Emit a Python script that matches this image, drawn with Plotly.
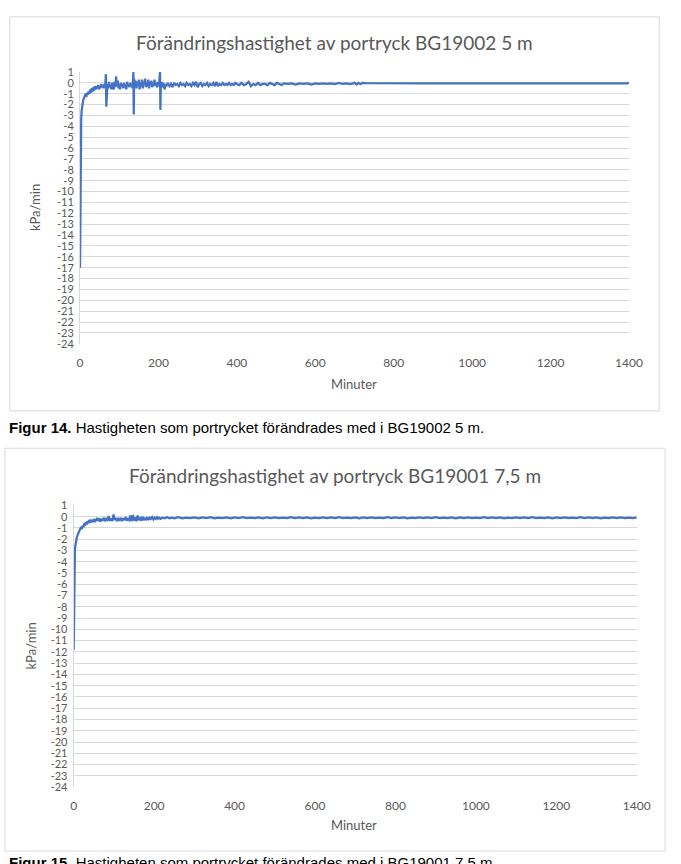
import plotly.graph_objects as go

# ---------------- data ----------------
x_tick_vals = [0, 200, 400, 600, 800, 1000, 1200, 1400]
y_tick_vals = list(range(1, -25, -1))
y_tick_text = [str(v) for v in y_tick_vals]

title1 = "Förändringshastighet av portryck BG19002 5 m"
title2 = "Förändringshastighet av portryck BG19001 7,5 m"
x_label = "Minuter"
y_label = "kPa/min"
caption1_bold = "Figur 14."
caption1_text = " Hastigheten som portrycket förändrades med i BG19002 5 m."
caption2_bold = "Figur 15."
caption2_text = " Hastigheten som portrycket förändrades med i BG19001 7,5 m."

# BG19002 5 m
minutes_1 = [0, 1, 2, 3, 4, 5, 6, 8, 10, 12,
             14, 16, 18, 20, 22, 24, 26, 28, 30, 32,
             34, 36, 38, 40, 42, 44, 46, 48, 50, 52,
             54, 56, 58, 60, 62, 64, 66, 67, 68, 70,
             72, 74, 76, 78, 80, 82, 84, 86, 88, 90,
             92, 94, 96, 98, 100, 102, 104, 106, 108, 110,
             112, 114, 116, 118, 120, 122, 124, 126, 128, 130,
             132, 134, 136, 137, 138, 140, 142, 144, 146, 148,
             150, 152, 154, 156, 158, 160, 162, 164, 166, 168,
             170, 172, 174, 176, 178, 180, 182, 184, 186, 188,
             190, 192, 194, 196, 198, 200, 202, 204, 205, 206,
             208, 210, 212, 214, 216, 218, 220, 224, 228, 232,
             236, 240, 244, 248, 252, 256, 260, 264, 268, 272,
             276, 280, 284, 288, 292, 296, 300, 304, 308, 312,
             316, 320, 324, 328, 332, 336, 340, 344, 348, 352,
             356, 360, 364, 368, 372, 376, 380, 384, 388, 392,
             396, 400, 406, 412, 418, 424, 430, 436, 442, 448,
             454, 460, 466, 472, 478, 484, 490, 496, 502, 508,
             514, 520, 530, 540, 550, 560, 570, 580, 590, 600,
             610, 620, 630, 640, 650, 660, 670, 680, 690, 700,
             705, 710, 715, 720, 725, 730, 900, 1100, 1300, 1396,
             1400]
rate_1 = [-17.0, -6.0, -4.5, -3.3, -2.6, -2.2, -1.9, -1.6, -1.4, -1.2,
          -1.0, -1.3, -0.9, -1.1, -0.8, -1.0, -0.6, -0.9, -0.5, -0.8,
          -0.4, -0.7, -0.3, -0.6, -0.3, -0.5, -0.2, -0.6, -0.3, -0.5,
          -0.1, -0.4, -0.2, -0.5, -0.1, -0.4, 0.8, -2.2, -0.3, -0.1,
          -0.5, 0.1, -0.4, -0.2, -0.6, 0.0, -0.3, -0.6, 0.1, -0.4,
          0.6, -0.3, 0.2, -0.5, -0.1, -0.6, 0.0, -0.3, -0.1, -0.5,
          0.0, -0.4, -0.2, -0.6, 0.1, -0.3, -0.1, -0.4, 0.0, -0.3,
          -0.1, -0.5, 1.0, -2.9, 0.4, -0.4, 0.2, -0.5, 0.1, -0.3,
          0.3, -0.6, 0.0, -0.3, 0.3, -0.5, 0.1, -0.2, 0.4, -0.4,
          0.0, -0.3, 0.3, -0.5, 0.1, -0.2, 0.2, -0.4, 0.0, -0.3,
          0.3, -0.2, 0.0, -0.4, 0.1, -0.3, 0.0, 1.0, -2.5, -0.2,
          0.1, -0.4, 0.0, -0.2, -0.6, -0.1, -0.3, 0.0, -0.3, -0.1,
          -0.4, 0.0, -0.2, -0.1, -0.3, 0.0, -0.2, -0.1, -0.3, 0.0,
          -0.2, -0.1, -0.3, 0.0, -0.2, 0.1, -0.4, -0.1, 0.0, -0.3,
          -0.1, -0.2, 0.0, -0.3, -0.1, -0.2, 0.0, -0.3, 0.1, -0.3,
          -0.1, -0.2, 0.0, -0.2, -0.1, -0.2, 0.0, -0.2, -0.1, -0.2,
          0.0, -0.1, -0.2, 0.0, -0.2, -0.1, 0.1, -0.3, -0.1, -0.2,
          0.0, -0.2, -0.1, -0.1, -0.2, 0.0, -0.1, -0.2, 0.0, -0.1,
          -0.2, -0.05, -0.1, -0.05, -0.15, -0.05, -0.1, -0.05, -0.15, -0.05,
          -0.1, -0.05, -0.1, -0.05, -0.12, 0.0, -0.1, -0.05, -0.12, 0.0,
          -0.15, 0.0, -0.12, 0.0, -0.05, -0.03, -0.04, -0.04, -0.04, -0.05,
          0.03]

# BG19001 7,5 m
minutes_2 = [0, 1, 2, 3, 4, 5, 6, 8, 10, 12,
             14, 16, 18, 20, 22, 24, 26, 28, 30, 32,
             34, 36, 38, 40, 42, 44, 46, 48, 50, 52,
             54, 56, 58, 60, 63, 66, 69, 72, 75, 78,
             81, 84, 87, 90, 93, 96, 99, 102, 105, 108,
             111, 114, 117, 120, 123, 126, 129, 132, 135, 138,
             141, 144, 147, 150, 153, 156, 159, 162, 165, 168,
             171, 174, 177, 180, 183, 186, 189, 192, 195, 198,
             201, 204, 207, 210, 213, 216, 220, 226, 232, 238,
             244, 250, 260, 270, 280, 290, 300, 310, 320, 330,
             340, 350, 360, 370, 380, 390, 400, 410, 420, 430,
             440, 450, 460, 470, 480, 490, 500, 510, 520, 530,
             540, 550, 560, 570, 580, 590, 600, 610, 620, 630,
             640, 650, 660, 670, 680, 690, 700, 710, 720, 730,
             740, 750, 760, 770, 780, 790, 800, 810, 820, 830,
             840, 850, 860, 870, 880, 890, 900, 910, 920, 930,
             940, 950, 960, 970, 980, 990, 1000, 1010, 1020, 1030,
             1040, 1050, 1060, 1070, 1080, 1090, 1100, 1110, 1120, 1130,
             1140, 1150, 1160, 1170, 1180, 1190, 1200, 1210, 1220, 1230,
             1240, 1250, 1260, 1270, 1280, 1290, 1300, 1310, 1320, 1330,
             1340, 1350, 1360, 1370, 1380, 1390, 1400]
rate_2 = [-11.8, -5.0, -3.6, -3.0, -2.6, -2.3, -2.1, -1.8, -1.6, -1.4,
          -1.25, -1.1, -1.0, -1.1, -0.8, -0.95, -0.6, -0.8, -0.5, -0.7,
          -0.4, -0.6, -0.3, -0.55, -0.25, -0.5, -0.3, -0.45, -0.2, -0.5,
          -0.2, -0.4, -0.1, -0.35, -0.15, -0.45, -0.2, -0.35, -0.1, -0.4,
          -0.2, -0.3, 0.05, -0.35, -0.15, -0.4, 0.2, -0.3, -0.1, -0.4,
          -0.2, -0.3, -0.1, -0.4, -0.15, -0.3, -0.05, -0.35, -0.2, -0.3,
          0.1, -0.4, 0.15, -0.35, -0.05, -0.4, 0.1, -0.3, -0.15, -0.35,
          0.0, -0.3, -0.15, -0.25, -0.05, -0.3, -0.1, -0.2, -0.05, -0.25,
          -0.1, -0.2, -0.05, -0.2, -0.1, -0.2, -0.1, -0.15, -0.05, -0.15,
          -0.08, -0.14, -0.05, -0.15, -0.08, -0.13, -0.06, -0.14, -0.07, -0.13,
          -0.05, -0.14, -0.08, -0.12, -0.06, -0.14, -0.07, -0.12, -0.05, -0.13,
          -0.08, -0.12, -0.06, -0.14, -0.07, -0.12, -0.06, -0.13, -0.08, -0.12,
          -0.05, -0.13, -0.07, -0.12, -0.06, -0.14, -0.08, -0.12, -0.06, -0.13,
          -0.07, -0.12, -0.05, -0.13, -0.08, -0.12, -0.06, -0.14, -0.07, -0.12,
          -0.06, -0.13, -0.08, -0.12, -0.05, -0.13, -0.07, -0.12, -0.06, -0.14,
          -0.08, -0.12, -0.06, -0.13, -0.07, -0.12, -0.05, -0.13, -0.08, -0.12,
          -0.06, -0.14, -0.07, -0.12, -0.06, -0.13, -0.08, -0.12, -0.05, -0.13,
          -0.07, -0.12, -0.06, -0.14, -0.08, -0.12, -0.06, -0.13, -0.07, -0.12,
          -0.05, -0.13, -0.08, -0.12, -0.06, -0.14, -0.07, -0.12, -0.06, -0.13,
          -0.08, -0.12, -0.05, -0.13, -0.07, -0.12, -0.06, -0.14, -0.08, -0.12,
          -0.06, -0.13, -0.07, -0.12, -0.08, -0.13, -0.09]

assert len(minutes_1) == len(rate_1), (len(minutes_1), len(rate_1))
assert len(minutes_2) == len(rate_2), (len(minutes_2), len(rate_2))

# ---------------- figure ----------------
W, H = 681, 864
LINE = "#4472c4"
GRID = "#d9d9d9"
TXT = "#595959"
FONT = "Lato, Open Sans, sans-serif"

def px(x):
    return x / W

def py(y):
    return 1 - y / H

fig = go.Figure()
fig.add_trace(go.Scatter(x=minutes_1, y=rate_1, mode="lines",
                         line=dict(color=LINE, width=2.25), xaxis="x", yaxis="y",
                         showlegend=False, hoverinfo="x+y"))
fig.add_trace(go.Scatter(x=minutes_2, y=rate_2, mode="lines",
                         line=dict(color=LINE, width=2.25), xaxis="x2", yaxis="y2",
                         showlegend=False, hoverinfo="x+y"))

common_x = dict(range=[0, 1400], tickvals=x_tick_vals, showgrid=False, zeroline=False,
                showline=False, tickfont=dict(family=FONT, size=12, color=TXT),
                ticklabelstandoff=10, fixedrange=True)
common_y = dict(range=[-24, 1], tickvals=y_tick_vals, ticktext=y_tick_text,
                showgrid=True, gridcolor=GRID,
                gridwidth=1, zeroline=False, showline=True, linecolor=GRID, linewidth=1,
                tickfont=dict(family=FONT, size=11, color=TXT), ticklabelstandoff=3,
                fixedrange=True)

fig.update_layout(
    width=W, height=H, margin=dict(l=0, r=0, t=0, b=0),
    paper_bgcolor="white", plot_bgcolor="white",
    xaxis=dict(domain=[px(79), px(642)], anchor="y", **common_x),
    yaxis=dict(domain=[py(342), py(66)], anchor="x", **common_y),
    xaxis2=dict(domain=[px(72.5), px(650)], anchor="y2", **common_x),
    yaxis2=dict(domain=[py(792), py(506)], anchor="x2", **common_y),
)

shapes = [
    dict(type="rect", xref="paper", yref="paper", x0=px(7), x1=px(673), y0=py(410), y1=py(10),
         line=dict(color=GRID, width=1), fillcolor="rgba(0,0,0,0)", layer="below"),
    dict(type="rect", xref="paper", yref="paper", x0=px(2), x1=px(679), y0=py(857), y1=py(448),
         line=dict(color=GRID, width=1), fillcolor="rgba(0,0,0,0)", layer="below"),
]
fig.update_layout(shapes=shapes)

ann = []
def txt(x, y, s, size, color=TXT, family=FONT, xanchor="center", yanchor="middle", angle=0):
    ann.append(dict(xref="paper", yref="paper", x=px(x), y=py(y), text=s, showarrow=False,
                    font=dict(family=family, size=size, color=color),
                    xanchor=xanchor, yanchor=yanchor, textangle=angle))

txt(340, 36, title1, 19)
txt(340, 476, title2, 19)
txt(33, 204, y_label, 13, angle=-90)
txt(29, 649, y_label, 13, angle=-90)
txt(360, 383, x_label, 13)
txt(360, 831, x_label, 13)
txt(4, 427, "<b>" + caption1_bold + "</b>" + caption1_text, 15, color="#000000",
    family="Liberation Sans, Arial, sans-serif", xanchor="left")
txt(4, 869, "<b>" + caption2_bold + "</b>" + caption2_text, 15, color="#000000",
    family="Liberation Sans, Arial, sans-serif", xanchor="left")
fig.update_layout(annotations=ann)

fig.write_html("out.html")
